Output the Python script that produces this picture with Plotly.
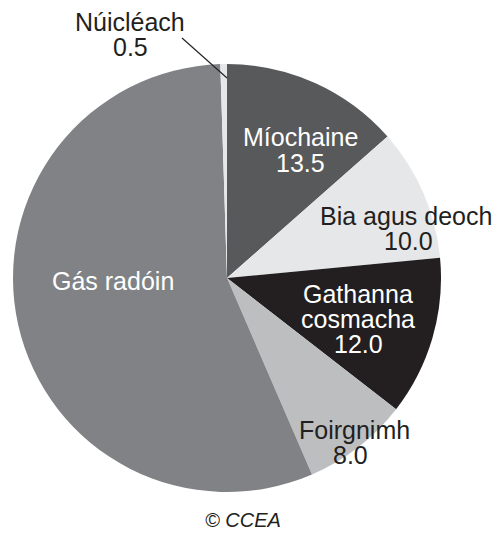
import plotly.graph_objects as go

# Data
categories = ["Míochaine", "Bia agus deoch", "Gathanna cosmacha", "Foirgnimh", "Gás radóin", "Núicléach"]
values = [13.5, 10.0, 12.0, 8.0, 56.0, 0.5]
show_value = [True, True, True, True, False, True]

# Styles
colors = ["#58595b", "#e6e7e8", "#231f20", "#bcbec0", "#808285", "#e6e7e8"]
OFF = 8  # page body margin
W, H = 501 - OFF, 534 - OFF
cx, cy, r = 227 - OFF, 278 - OFF, 214


def px(x):
    return (x - OFF) / W


def py(y):
    return 1 - (y - OFF) / H


fig = go.Figure(go.Pie(
    labels=categories, values=values, sort=False, direction="clockwise",
    rotation=0, textinfo="none", hoverinfo="label+value",
    marker=dict(colors=colors, line=dict(width=0)),
    domain=dict(x=[(cx - r) / W, (cx + r) / W], y=[1 - (cy + r) / H, 1 - (cy - r) / H]),
    showlegend=False,
))

# label line layout: (lines, x-center in px, y-middles in px, color)
label_layout = {
    "Míochaine": (["Míochaine"], 300, [137, 163], "white"),
    "Bia agus deoch": (["Bia agus deoch"], 406, [216, 241], "#231f20"),
    "Gathanna cosmacha": (["Gathanna", "cosmacha"], 358, [294, 319, 344], "white"),
    "Foirgnimh": (["Foirgnimh"], 354, [430, 455], "#231f20"),
    "Gás radóin": (["Gás radóin"], 113, [281], "white"),
    "Núicléach": (["Núicléach"], 130, [22, 47], "#231f20"),
}
value_x_shift = {"Bia agus deoch": 2, "Foirgnimh": -4}

annotations = []
font_family = "Arial, Liberation Sans, sans-serif"
for cat, val, sv in zip(categories, values, show_value):
    lines, x, ys, col = label_layout[cat]
    texts = list(lines) + ([f"{val:.1f}"] if sv else [])
    for i, (t, y) in enumerate(zip(texts, ys)):
        xx = x + (value_x_shift.get(cat, 0) if i == len(texts) - 1 and sv else 0)
        annotations.append(dict(
            text=t, x=px(xx), y=py(y), xref="paper", yref="paper",
            xanchor="center", yanchor="middle", showarrow=False,
            font=dict(family=font_family, size=25, color=col),
        ))

annotations.append(dict(
    text="<i>© CCEA</i>", x=px(243), y=py(520), xref="paper", yref="paper",
    xanchor="center", yanchor="middle", showarrow=False,
    font=dict(family=font_family, size=20, color="#231f20"),
))

fig.update_layout(
    width=W, height=H, margin=dict(l=0, r=0, t=0, b=0),
    paper_bgcolor="white", plot_bgcolor="white",
    annotations=annotations,
    shapes=[dict(type="line", xref="paper", yref="paper",
                 x0=px(182), y0=py(38), x1=px(227), y1=py(78),
                 line=dict(color="#231f20", width=1.2))],
)

fig.write_html("out.html")
